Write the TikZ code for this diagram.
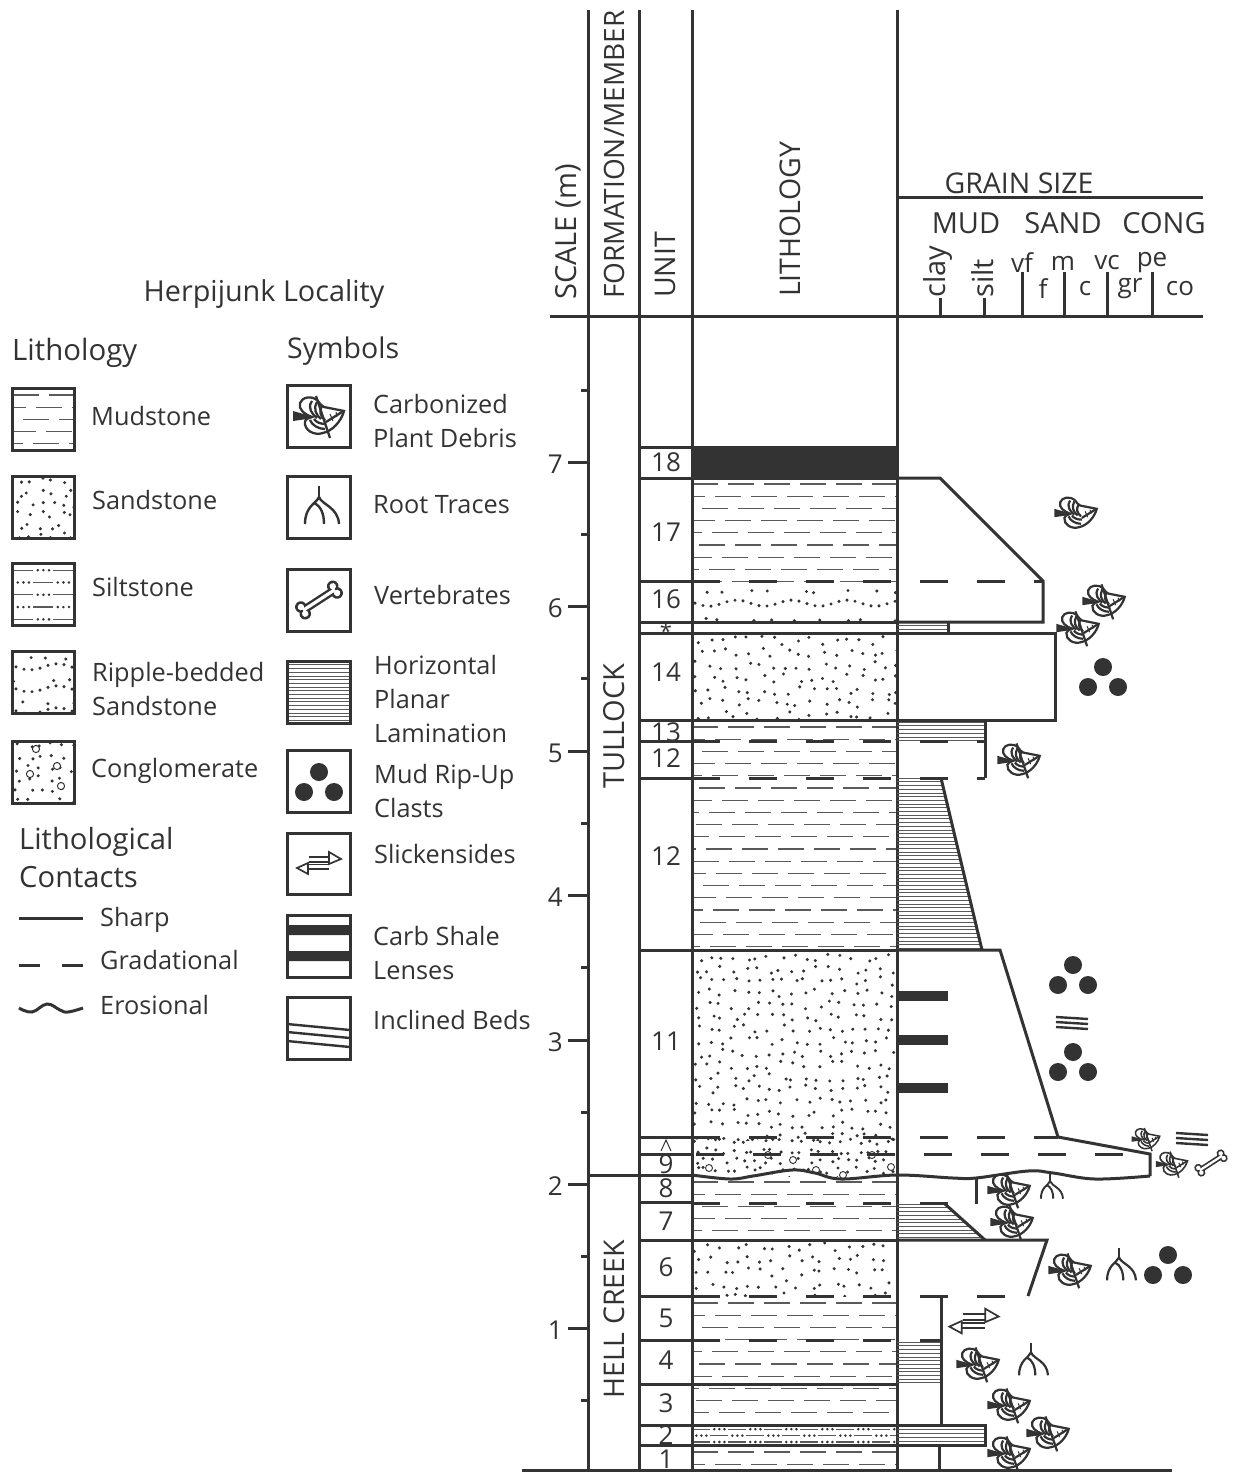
\documentclass[tikz,border=0pt]{standalone}
\usepackage{fontspec}
\setmainfont{Open Sans}
\definecolor{ink}{HTML}{333333}
\definecolor{fineink}{HTML}{5a5a5a}

\newcommand{\mudfill}[4]{%
  \begin{scope}
    \clip (#1,#3) rectangle (#2,#4);
    \pgfmathtruncatemacro\nrows{(#4-#3)/12.2}
    \foreach \ii in {0,...,\nrows} {
      \pgfmathsetmacro\yy{#3+6+12.2*\ii}
      \pgfmathsetmacro\ph{mod(\ii*13,36)}
      \draw[mudline,dash phase=\ph pt] (#1,\yy) -- (#2,\yy);
    }
  \end{scope}}
\newcommand{\sandfill}[5]{%
  \begin{scope}
    \clip (#1,#3) rectangle (#2,#4);
    \pgfmathtruncatemacro\ncols{(#2-#1)/#5}
    \pgfmathtruncatemacro\nrows{(#4-#3)/#5}
    \foreach \ii in {0,...,\ncols} \foreach \jj in {0,...,\nrows} {
      \pgfmathsetmacro\xx{#1+#5*(\ii+.15+.7*rnd)}
      \pgfmathsetmacro\yy{#3+#5*(\jj+.15+.7*rnd)}
      \fill[ink] (\xx,\yy) circle (1.7pt);
    }
  \end{scope}}
\newcommand{\ripplefill}[5]{%
  \begin{scope}
    \clip (#1,#3) rectangle (#2,#4);
    \pgfmathtruncatemacro\nrows{(#4-#3)/#5}
    \pgfmathtruncatemacro\ncols{(#2-#1)/8}
    \pgfmathtruncatemacro\nspots{(#2-#1)/24}
    \foreach \jj in {0,...,\nrows} {
      \foreach \ii in {0,...,\ncols} {
        \pgfmathsetmacro\xx{#1+8*\ii+3}
        \pgfmathsetmacro\yy{#3+#5*\jj+#5*.72+3*sin(\ii*52)}
        \fill[ink] (\xx,\yy) circle (1.7pt);
      }
      \foreach \ii in {0,...,\nspots} {
        \pgfmathsetmacro\xx{#1+24*\ii+20*rnd}
        \pgfmathsetmacro\yy{#3+#5*\jj+#5*.26+3*rnd}
        \fill[ink] (\xx,\yy) circle (1.7pt);
      }
    }
  \end{scope}}
\newcommand{\siltfill}[6]{%
  \begin{scope}
    \clip (#1,#3) rectangle (#2,#4);
    \pgfmathtruncatemacro\nrows{(#4-#3)/#5}
    \pgfmathtruncatemacro\ncols{(#2-#1)/#6+1}
    \foreach \jj in {0,...,\nrows} {
      \pgfmathsetmacro\yy{#3+#5*(\jj+.5)}
      \foreach \ii in {0,...,\ncols} {
        \pgfmathsetmacro\xx{#1-.5*#6*mod(\jj,2)+#6*\ii}
        \draw[mudline,solid] (\xx,\yy) -- ++(.5*#6,0);
        \foreach \kk in {.62,.76,.9}
          \fill[ink] (\xx+\kk*#6,\yy) circle (1.4pt);
      }
    }
  \end{scope}}
\newcommand{\lamfill}[3]{%
  \begin{scope}
    \clip #1;
    \pgfmathsetmacro\ynext{#2+3.7}
    \foreach \yy in {#2,\ynext,...,#3}
      \draw[lamline] (880,\yy) -- (1060,\yy) (280,\yy) -- (360,\yy);
  \end{scope}}
\newcommand{\leafbody}{%
  \fill[ink] (-26,-5) -- (-12,-1) -- (-6,1) -- (-12,3) -- (-26,5) -- cycle;
  \draw[ink,fill=white] (-7,1) .. controls (-15,-2) and (-21,-7) .. (-19,-13)
    .. controls (-17,-19) and (-7,-21) .. (-1,-15) .. controls (1,-12) and (3,-10) .. (5,-9)
    -- (25,-5) .. controls (22,6) and (13,15) .. (4,17)
    .. controls (-5,20) and (-15,14) .. (-14,6) .. controls (-14,3) and (-10,2) .. (-7,1) -- cycle;
  \draw[ink] (-7,-15) .. controls (-12,-8) and (-7,-2) .. (-2,2);
  \draw[ink] (-2,-14) .. controls (-6,-7) and (-3,-1) .. (2,3);
  \draw[ink] (3,-10) .. controls (0,-5) and (1,0) .. (6,4);
  \draw[ink] (-9,4) .. controls (-7,9) and (-1,13) .. (6,13);
  \draw[ink] (-5,3) .. controls (-3,6) and (1,8) .. (7,8);
  \draw[ink] (7,6) -- (23,-4);
  \draw[ink,line width=1pt] (11,-2) -- (14,5) (17,-4) -- (18,1);
}

\tikzset{
  leaf/.pic={\leafbody},
  leafcross/.pic={
    \leafbody
    \draw[ink] (-3,-20) -- (11,22);
  },
  roots/.pic={
    \draw[ink] (0,-20) -- (0,-8);
    \draw[ink] (0,-9) .. controls (-3,-2) and (-14,0) .. (-14,18);
    \draw[ink] (-5,-3) .. controls (2,0) and (5,8) .. (5,18);
    \draw[ink] (0,-9) .. controls (3,-1) and (19,1) .. (20,18);
  },
  bone/.pic={
    \begin{scope}[rotate=33]
      \foreach \pp/\qq in {-19/-4,-19/4,19/-4,19/4}
        \fill[ink] (\pp,\qq) circle (5.8);
      \fill[ink] (-19,-4) rectangle (19,4);
      \foreach \pp/\qq in {-19/-4,-19/4,19/-4,19/4}
        \fill[white] (\pp,\qq) circle (3.2);
      \fill[white] (-19,-1.6) rectangle (19,1.6);
    \end{scope}
  },
  clasts/.pic={
    \fill[ink] (0,-10) circle (9) (-15,10) circle (9) (15,10) circle (9);
  },
  slick/.pic={
    \draw[ink] (-10,-6) -- (11,-6) (-10,-1) -- (11,-1) (-11,1.5) -- (10,1.5) (-11,6) -- (10,6);
    \draw[ink] (10,-11) -- (22,-4) -- (10,1) -- cycle;
    \draw[ink] (-11,0) -- (-22,5) -- (-11,11) -- cycle;
  },
  incl/.pic={
    \draw[ink] (-16,-6) -- (16,-4) (-16,-1) -- (16,1) (-16,4) -- (16,6);
  },
  mudline/.style={fineink,line width=1.3pt,dash pattern=on 26pt off 10pt},
  lamline/.style={fineink,line width=.6pt},
  colline/.style={ink,line width=3pt},
  gradline/.style={ink,line width=3pt,dash pattern=on 28pt off 29pt},
  boxline/.style={ink,line width=3pt},
  label/.style={ink,font=\fontsize{25.3}{34}\selectfont,inner sep=0pt},
  legtext/.style={label,anchor=west,align=left},
  unittext/.style={ink,font=\fontsize{26}{26}\selectfont,inner sep=0pt},
  headtext/.style={ink,font=\fontsize{28.5}{28.5}\selectfont,inner sep=0pt,rotate=90,anchor=west},
}

\begin{document}
\begin{tikzpicture}[x=1pt,y=-1pt]
  \useasboundingbox (0,0) rectangle (1233,1472);
  \pgfmathsetseed{4217}

  % legend titles
  \node[label,font=\fontsize{28.8}{29}\selectfont] (localitytitle) at (264,294) {Herpijunk Locality};
  \node[legtext,font=\fontsize{29.4}{30}\selectfont] (lithtitle) at (12,353) {Lithology};
  \node[legtext,font=\fontsize{28.5}{29}\selectfont] (symbtitle) at (287,351) {Symbols};
  \node[legtext,font=\fontsize{29.2}{38}\selectfont,text width=180pt] (contacttitle) at (19,858) {Lithological\\Contacts};

  % legend lithology boxes
  \mudfill{13}{73}{389}{449}
  \draw[boxline] (12,388) rectangle (74,450);
  \sandfill{13}{73}{476}{537}{11}
  \draw[boxline] (12,476) rectangle (74,538);
  \siltfill{13}{73}{564}{625}{12.3}{40}
  \draw[boxline] (12,563) rectangle (74,625);
  \ripplefill{13}{73}{651}{712}{22}
  \draw[boxline] (12,651) rectangle (74,713);
  \sandfill{13}{73}{741}{802}{11}
  \foreach \cx/\cy in {36/749,57/766,30/774,61/786}
    \draw[ink,fill=white,line width=1pt] (\cx,\cy) circle (3.6);
  \draw[boxline] (12,741) rectangle (74,803);
  \node[legtext] (mudlabel) at (91,416) {Mudstone};
  \node[legtext] (sandlabel) at (92,500) {Sandstone};
  \node[legtext] (siltlabel) at (92,587) {Siltstone};
  \node[legtext] (ripplelabel) at (92,689) {Ripple-bedded\\Sandstone};
  \node[legtext] (conglabel) at (91,771) {Conglomerate};

  % legend contacts
  \draw[colline] (19,918) -- (83,918);
  \draw[colline,dash pattern=on 21pt off 22pt] (19,965) -- (83,965);
  \draw[colline] plot[smooth,tension=.7] coordinates {(19,1008) (32,1012) (47,1004) (60,1010) (68,1012) (83,1008)};
  \node[legtext] (sharplabel) at (100,920) {Sharp};
  \node[legtext] (gradlabel) at (100,960) {Gradational};
  \node[legtext] (erosionlabel) at (100,1005) {Erosional};

  % legend symbol boxes
  \pic[line width=2.3pt] at (319,416) {leafcross};
  \draw[boxline] (287,385) rectangle (350,447);
  \pic[line width=2.4pt] at (319,506) {roots};
  \draw[boxline] (287,476) rectangle (350,538);
  \pic at (319,600) {bone};
  \draw[boxline] (287,569) rectangle (350,631);
  \lamfill{(287,661) rectangle (350,723)}{661}{723}
  \draw[boxline] (287,661) rectangle (350,723);
  \pic at (319,782) {clasts};
  \draw[boxline] (287,750) rectangle (350,812);
  \pic[line width=1.7pt] at (319,863) {slick};
  \draw[boxline] (287,833) rectangle (350,894);
  \fill[ink] (287,925) rectangle (350,935) (287,951) rectangle (350,961);
  \draw[boxline] (287,915) rectangle (350,977);
  \draw[colline,line width=2.4pt] (287,1024) -- (350,1030) (287,1032) -- (350,1038) (287,1041) -- (350,1047);
  \draw[boxline] (287,997) rectangle (350,1059);
  \node[legtext] (plantlabel) at (373,421) {Carbonized\\Plant Debris};
  \node[legtext] (rootlabel) at (373,505) {Root Traces};
  \node[legtext] (vertlabel) at (374,595) {Vertebrates};
  \node[legtext] (lamlabel) at (374,699) {Horizontal\\Planar\\Lamination};
  \node[legtext] (clastlabel) at (374,791) {Mud Rip-Up\\Clasts};
  \node[legtext] (slicklabel) at (374,854) {Slickensides};
  \node[legtext] (carblabel) at (373,953) {Carb Shale\\Lenses};
  \node[legtext] (incllabel) at (373,1020) {Inclined Beds};

  % lithology column
  \fill[ink] (692,447) rectangle (897,478);
  \mudfill{692}{897}{478}{581}
  \ripplefill{692}{897}{583}{622}{28}
  \sandfill{692}{897}{634}{720}{12.5}
  \mudfill{692}{897}{721}{950}
  \sandfill{692}{897}{951}{1140}{12}
  \sandfill{692}{897}{1137}{1176}{9.5}
  \foreach \cx/\cy in {709/1168,768/1155,793/1160,816/1170,843/1175,872/1155,891/1167}
    \draw[ink,fill=white,line width=.9pt] (\cx,\cy) circle (3.5);
  \mudfill{692}{897}{1176}{1240}
  \sandfill{692}{897}{1241}{1296}{12.5}
  \mudfill{692}{897}{1297}{1425}
  \siltfill{692}{897}{1426}{1445}{6.4}{36}
  \mudfill{692}{897}{1446}{1472}

  % unit numbers
  \foreach \num/\ypos [count=\ii] in {18/462,17/532,16/599,14/672,13/732,12/758,12/856,11/1041,9/1164,8/1188,7/1221,6/1267,5/1318,4/1360,3/1403,2/1435,1/1459}
    \node[unittext] (unit\ii) at (666,\ypos) {\num};
  \node[ink,inner sep=0pt,font=\fontsize{22}{22}\selectfont] (unitstar) at (666,631) {*};
  \draw[ink,line width=1pt] (661,1151) -- (666,1140) -- (671,1151);

  % column frame
  \foreach \xx in {588,639,692,897}
    \draw[colline] (\xx,10) -- (\xx,1472);
  \draw[colline] (550,316) -- (1203,316);
  \draw[colline] (522,1470) -- (1172,1470);
  \draw[colline] (897,197) -- (1203,197);
  \foreach \yy in {447,478,622,633,720,950,1240,1384,1425,1445}
    \draw[colline] (639,\yy) -- (897,\yy);
  \foreach \yy in {581,741,778,1137,1154,1202,1296,1340}
    \draw[colline] (639,\yy) -- (692,\yy);
  \draw[colline] (588,1175) -- (692,1175);

  % scale
  \foreach \yy/\num in {462/7,606/6,751/5,895/4,1040/3,1184/2,1328/1} {
    \draw[colline] (568,\yy) -- (588,\yy);
    \node[unittext,anchor=east] (scale\num) at (563,\yy+2) {\num};
  }
  \foreach \yy in {390,534,678,823,967,1112,1256,1400}
    \draw[colline] (581,\yy) -- (588,\yy);

  % headers
  \node[headtext,font=\fontsize{29}{29}\selectfont] (scalehead) at (568,300) {SCALE (m)};
  \node[headtext,font=\fontsize{28}{28}\selectfont] (formhead) at (614,299) {FORMATION/MEMBER};
  \node[headtext] (unithead) at (665,298) {UNIT};
  \node[headtext] (lithhead) at (790,297) {LITHOLOGY};
  \node[headtext,font=\fontsize{29}{29}\selectfont] (tullock) at (614,789) {TULLOCK};
  \node[headtext] (hellcreek) at (614,1399) {HELL CREEK};
  \node[unittext,font=\fontsize{28.5}{29}\selectfont] (grainhead) at (1019,183) {GRAIN SIZE};
  \node[unittext,font=\fontsize{29}{29}\selectfont] (mudhead) at (966,223) {MUD};
  \node[unittext,font=\fontsize{29}{29}\selectfont] (sandhead) at (1063,223) {SAND};
  \node[unittext,font=\fontsize{29}{29}\selectfont] (conghead) at (1164,223) {CONG};
  \node[headtext,font=\fontsize{29}{29}\selectfont] (clay) at (938,298) {clay};
  \node[headtext,font=\fontsize{29}{29}\selectfont] (silt) at (983,298) {silt};
  \foreach \lab/\xx in {vf/1022,m/1063,vc/1107,pe/1152}
    \node[label,font=\fontsize{26}{26}\selectfont] (grain\lab) at (\xx,263) {\lab};
  \foreach \lab/\xx in {f/1043,c/1085,gr/1130,co/1180}
    \node[label,font=\fontsize{26}{26}\selectfont] (grain\lab) at (\xx,289) {\lab};
  \foreach \xx/\yy in {940/298,984/298,1022/272,1064/272,1107/272,1152/272}
    \draw[colline] (\xx,\yy) -- (\xx,316);

  % grain size profile
  \lamfill{(897,623) rectangle (948,633)}{622}{633}
  \lamfill{(897,721) rectangle (985,741)}{722}{741}
  \lamfill{(897,778) -- (941,778) -- (982,950) -- (897,950) -- cycle}{778}{950}
  \lamfill{(897,1204) -- (945,1204) -- (985,1240) -- (897,1240) -- cycle}{1204}{1240}
  \lamfill{(897,1342) rectangle (941,1384)}{1342}{1384}
  \lamfill{(897,1425) rectangle (985,1445)}{1426}{1445}
  \draw[colline,line join=miter] (897,478) -- (940,478) -- (1043,581) -- (1043,622) -- (897,622);
  \draw[colline] (948,622) -- (948,633);
  \draw[colline] (897,633) -- (1055,633) -- (1055,720) -- (897,720);
  \draw[colline] (897,720) -- (985,720) -- (985,778);
  \draw[colline] (941,778) -- (982,950);
  \draw[colline] (897,950) -- (1000,950) -- (1058,1137) -- (1150,1154) -- (1150,1176);
  \draw[colline] (945,1204) -- (985,1240);
  \draw[colline] (897,1240) -- (1047,1240) -- (1028,1296);
  \draw[colline] (976,1178) -- (976,1204);
  \draw[colline] (941,1296) -- (941,1425);
  \draw[colline] (939,1445) -- (939,1472);
  \draw[colline] (897,1425) -- (985,1425) -- (985,1445) -- (897,1445);
  \draw[colline] plot[smooth,tension=.6] coordinates {(692,1175) (730,1179) (753,1176) (792,1170) (815,1173) (841,1179) (897,1175) (953,1178) (976,1178) (1028,1171) (1053,1173) (1095,1179) (1150,1176)};

  % gradational contacts
  \draw[gradline] (692,581) -- (1043,581);
  \draw[gradline] (692,741) -- (985,741);
  \draw[gradline] (692,778) -- (985,778);
  \draw[gradline] (692,1137) -- (1058,1137);
  \draw[gradline] (696,1154) -- (1123,1154);
  \draw[gradline] (692,1203) -- (948,1203);
  \draw[gradline] (692,1296) -- (1005,1296);
  \draw[gradline] (692,1340) -- (941,1340);

  % carb shale bars
  \foreach \yy in {996,1040,1088}
    \fill[ink] (897,\yy-5) rectangle (948,\yy+5);

  % column symbols
  \foreach \xx/\yy in {1104/601,1078/628,1019/760,1009/1190,1012/1222,1070/1270,978/1364,1009/1405,1048/1433,1009/1453}
    \pic[scale=.83,line width=2.2pt] at (\xx,\yy) {leafcross};
  \pic[scale=.83,line width=2.2pt] at (1076,513) {leaf};
  \pic[scale=.55,line width=1.5pt] at (1146,1139) {leafcross};
  \pic[scale=.62,line width=1.6pt] at (1172,1164) {leafcross};
  \foreach \xx/\yy in {1103/677,1073/975,1073/1062,1168/1265}
    \pic at (\xx,\yy) {clasts};
  \pic[scale=.85,line width=2.2pt] at (1119,1265) {roots};
  \pic[scale=.85,line width=2.2pt] at (1031,1360) {roots};
  \pic[scale=.65,line width=1.9pt] at (1050,1187) {roots};
  \pic[scale=.7] at (1211,1163) {bone};
  \pic[scale=1.12,line width=1.7pt] at (974,1321) {slick};
  \pic[line width=2.4pt] at (1072,1023) {incl};
  \pic[line width=2.4pt] at (1192,1139) {incl};
\end{tikzpicture}
\end{document}
